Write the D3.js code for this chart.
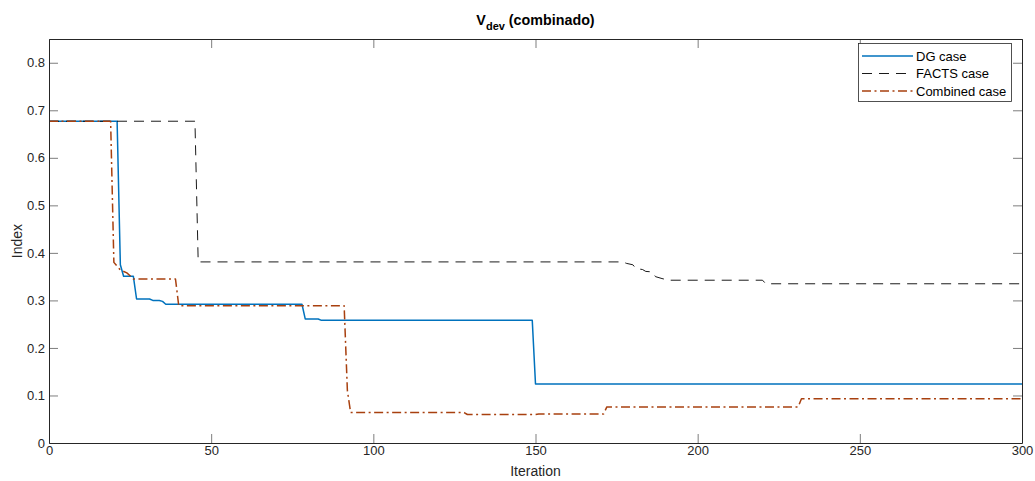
<!DOCTYPE html>
<html>
<head>
<meta charset="utf-8">
<script src="https://cdn.jsdelivr.net/npm/d3@7"></script>
<style>
  html, body { margin: 0; padding: 0; background: #fff; }
  svg { display: block; font-family: "Liberation Sans", Arial, Helvetica, sans-serif; }
</style>
</head>
<body>
<svg id="chart" width="1035" height="481"></svg>
<script>
// Convergence of the voltage deviation index per iteration
const dgIter   = [0, 21, 22, 23, 26, 27, 31, 32, 34, 35, 36, 78, 79, 83, 84, 149, 150, 300];
const dgValue  = [0.677, 0.677, 0.375, 0.351, 0.351, 0.303, 0.303, 0.300, 0.300, 0.298, 0.292, 0.292, 0.261, 0.261, 0.258, 0.258, 0.124, 0.124];

const factsIter  = [0, 45, 46, 177, 178, 180, 181, 183, 184, 186, 187, 189, 191, 220, 221, 300];
const factsValue = [0.677, 0.677, 0.381, 0.381, 0.378, 0.375, 0.367, 0.365, 0.361, 0.360, 0.350, 0.346, 0.3425, 0.3425, 0.335, 0.335];

const combIter  = [0, 19, 20, 21, 22, 24, 25, 26, 39, 40, 91, 92, 93, 128, 129, 150, 151, 171, 172, 231, 232, 300];
const combValue = [0.677, 0.677, 0.380, 0.372, 0.364, 0.358, 0.352, 0.345, 0.345, 0.289, 0.289, 0.110, 0.064, 0.064, 0.060, 0.060, 0.061, 0.061, 0.076, 0.076, 0.093, 0.093];

const xTicks = [0, 50, 100, 150, 200, 250, 300];
const yTicks = [0, 0.1, 0.2, 0.3, 0.4, 0.5, 0.6, 0.7, 0.8];
const seriesNames = ["DG case", "FACTS case", "Combined case"];

const svg = d3.select("#chart");
const pLeft = 49, pRight = 1022, pTop = 39, pBottom = 443;
const axisColor = "#262626";

const x = d3.scaleLinear().domain([0, 300]).range([pLeft, pRight]);
const y = d3.scaleLinear().domain([0, 0.85]).range([pBottom, pTop]);

svg.append("rect").attr("width", 1035).attr("height", 481).attr("fill", "#fff");

// series
const styles = [
  { color: "#0072BD", width: 1.5, dash: null },
  { color: "#000000", width: 0.9, dash: "10,7" },
  { color: "#A8400F", width: 1.5, dash: "9,3.5,2,3.5" }
];
const data = [
  d3.zip(dgIter, dgValue),
  d3.zip(factsIter, factsValue),
  d3.zip(combIter, combValue)
];
const line = d3.line().x(d => x(d[0])).y(d => y(d[1]));
const plot = svg.append("g");
data.forEach((pts, i) => {
  plot.append("path")
    .attr("d", line(pts))
    .attr("fill", "none")
    .attr("stroke", styles[i].color)
    .attr("stroke-width", styles[i].width)
    .attr("stroke-dasharray", styles[i].dash)
    .attr("stroke-linejoin", "round");
});

// axes, ticks pointing inward on all four sides
const fmtY = d => d === 0 ? "0" : d3.format(".1f")(d);
function styleAxis(g) {
  g.select(".domain").attr("stroke", axisColor).attr("stroke-width", 1);
  g.selectAll(".tick line").attr("stroke", axisColor).attr("stroke-width", 0.6);
  g.selectAll(".tick text").attr("fill", axisColor).attr("font-size", 13)
    .attr("font-family", "'Liberation Sans', Arial, Helvetica, sans-serif");
}
svg.append("g").attr("transform", `translate(0,${pBottom})`)
  .call(d3.axisBottom(x).tickValues(xTicks).tickSizeInner(-9).tickSizeOuter(0).tickPadding(3))
  .call(styleAxis);
svg.append("g").attr("transform", `translate(0,${pTop})`)
  .call(d3.axisTop(x).tickValues(xTicks).tickSizeInner(-9).tickSizeOuter(0).tickFormat(""))
  .call(styleAxis);
svg.append("g").attr("transform", `translate(${pLeft},0)`)
  .call(d3.axisLeft(y).tickValues(yTicks).tickFormat(fmtY).tickSizeInner(-9).tickSizeOuter(0).tickPadding(4))
  .call(styleAxis);
svg.append("g").attr("transform", `translate(${pRight},0)`)
  .call(d3.axisRight(y).tickValues(yTicks).tickSizeInner(-9).tickSizeOuter(0).tickFormat(""))
  .call(styleAxis);

// title with subscript
const title = svg.append("text")
  .attr("x", (pLeft + pRight) / 2).attr("y", 25)
  .attr("text-anchor", "middle")
  .attr("font-weight", "bold").attr("font-size", 14.3).attr("fill", "#000");
title.append("tspan").text("V");
title.append("tspan").attr("dy", 5).attr("font-size", 11).text("dev");
title.append("tspan").attr("dy", -5).text(" (combinado)");

// axis labels
svg.append("text").attr("x", (pLeft + pRight) / 2).attr("y", 476)
  .attr("text-anchor", "middle").attr("font-size", 14).attr("fill", axisColor)
  .text("Iteration");
svg.append("text")
  .attr("transform", `translate(22,${(pTop + pBottom) / 2}) rotate(-90)`)
  .attr("text-anchor", "middle").attr("font-size", 14).attr("fill", axisColor)
  .text("Index");

// legend
const legend = svg.append("g");
legend.append("rect")
  .attr("x", 858.5).attr("y", 43.5).attr("width", 153).attr("height", 58)
  .attr("fill", "#fff").attr("stroke", axisColor).attr("stroke-width", 0.8);
const rowY = [56, 73.5, 91];
seriesNames.forEach((name, i) => {
  legend.append("line")
    .attr("x1", 862).attr("x2", 913).attr("y1", rowY[i]).attr("y2", rowY[i])
    .attr("stroke", styles[i].color)
    .attr("stroke-width", styles[i].width)
    .attr("stroke-dasharray", styles[i].dash);
  legend.append("text")
    .attr("x", 916).attr("y", rowY[i] + 4.6)
    .attr("font-size", 13).attr("fill", "#000")
    .text(name);
});
</script>
</body>
</html>
